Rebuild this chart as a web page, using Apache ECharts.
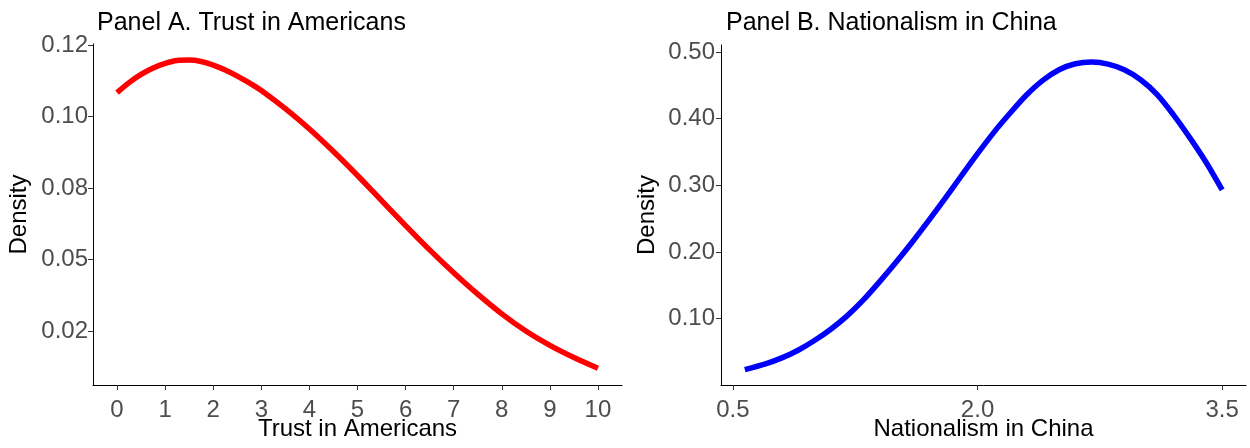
<!DOCTYPE html>
<html>
<head>
<meta charset="utf-8">
<script src="https://cdn.jsdelivr.net/npm/echarts@6/dist/echarts.min.js"></script>
<style>
html,body{margin:0;padding:0;background:#fff;}
#chart{width:1250px;height:448px;}
</style>
</head>
<body>
<div id="chart"></div>
<script>
// Panel A: Trust in Americans
const trustX = [0, 0.25, 0.5, 0.75, 1, 1.25, 1.5, 1.75, 2, 2.25, 2.5, 2.75, 3, 3.5, 4, 4.5, 5, 5.5, 6, 6.5, 7, 7.5, 8, 8.5, 9, 9.5, 10];
const trustDensity = [0.1067, 0.1095, 0.1118, 0.1136, 0.1149, 0.1157, 0.1158, 0.1154, 0.1144, 0.1130, 0.1113, 0.1094, 0.1073, 0.1022, 0.0965, 0.0902, 0.0835, 0.0765, 0.0695, 0.0627, 0.0563, 0.0503, 0.0448, 0.0400, 0.0360, 0.0326, 0.0296];
const trustXTicks = [0, 1, 2, 3, 4, 5, 6, 7, 8, 9, 10];
const trustYTicks = [0.04, 0.06, 0.08, 0.10, 0.12];
const trustYTickLabels = ['0.02', '0.05', '0.08', '0.10', '0.12'];

// Panel B: Nationalism in China
const natX = [0.573, 0.7, 0.8, 0.9, 1.0, 1.1, 1.2, 1.3, 1.4, 1.5, 1.6, 1.7, 1.8, 1.9, 2.0, 2.1, 2.2, 2.3, 2.4, 2.5, 2.6, 2.7, 2.8, 2.9, 3.0, 3.1, 3.2, 3.3, 3.4, 3.5];
const natDensity = [0.0235, 0.032, 0.041, 0.0525, 0.067, 0.084, 0.104, 0.128, 0.1555, 0.1845, 0.215, 0.247, 0.280, 0.314, 0.3475, 0.3795, 0.4085, 0.4355, 0.4575, 0.4735, 0.4825, 0.485, 0.482, 0.4735, 0.4585, 0.4365, 0.4062, 0.372, 0.335, 0.293];
const natXTicks = [0.5, 2.0, 3.5];
const natXTickLabels = ['0.5', '2.0', '3.5'];
const natYTicks = [0.1, 0.2, 0.3, 0.4, 0.5];
const natYTickLabels = ['0.10', '0.20', '0.30', '0.40', '0.50'];

const FONT = '"Liberation Sans", Arial, sans-serif';

function labelFor(ticks, labels) {
  return function (v) {
    for (let i = 0; i < ticks.length; i++) {
      if (Math.abs(ticks[i] - v) < 1e-6) return labels[i];
    }
    return '';
  };
}

const axisLineStyle = { show: true, onZero: false, lineStyle: { color: '#000', width: 1 } };
const tickStyle = { show: true, length: 5, lineStyle: { color: '#333', width: 1 } };
const tickLabelStyle = { color: '#4D4D4D', fontSize: 24, fontFamily: FONT };
const nameStyle = { color: '#000', fontSize: 24, fontFamily: FONT };

const chart = echarts.init(document.getElementById('chart'), null, { renderer: 'canvas' });
chart.setOption({
  animation: false,
  backgroundColor: '#fff',
  title: [
    { text: 'Panel A. Trust in Americans', left: 92, top: 6,
      textStyle: { color: '#000', fontSize: 25, fontWeight: 'normal', fontFamily: FONT } },
    { text: 'Panel B. Nationalism in China', left: 721, top: 6,
      textStyle: { color: '#000', fontSize: 25, fontWeight: 'normal', fontFamily: FONT } }
  ],
  grid: [
    { left: 93, right: 628, top: 44, bottom: 63, containLabel: false, outerBoundsMode: 'none' },
    { left: 721, right: 4, top: 45, bottom: 63, containLabel: false, outerBoundsMode: 'none' }
  ],
  xAxis: [
    {
      type: 'value', gridIndex: 0, min: -0.5, max: 10.5,
      name: 'Trust in Americans', nameLocation: 'middle', nameGap: 32, nameMoveOverlap: false, nameTextStyle: nameStyle,
      axisLine: axisLineStyle,
      axisTick: Object.assign({}, tickStyle, { customValues: trustXTicks }),
      axisLabel: Object.assign({}, tickLabelStyle, { customValues: trustXTicks, margin: 13,
        formatter: labelFor(trustXTicks, trustXTicks.map(String)) }),
      splitLine: { show: false }
    },
    {
      type: 'value', gridIndex: 1, min: 0.427, max: 3.646,
      name: 'Nationalism in China', nameLocation: 'middle', nameGap: 32, nameMoveOverlap: false, nameTextStyle: nameStyle,
      axisLine: axisLineStyle,
      axisTick: Object.assign({}, tickStyle, { customValues: natXTicks }),
      axisLabel: Object.assign({}, tickLabelStyle, { customValues: natXTicks, margin: 13,
        formatter: labelFor(natXTicks, natXTickLabels) }),
      splitLine: { show: false }
    }
  ],
  yAxis: [
    {
      type: 'value', gridIndex: 0, min: 0.0249, max: 0.1203,
      name: 'Density', nameLocation: 'middle', nameRotate: 90, nameGap: 62, nameMoveOverlap: false, nameTextStyle: nameStyle,
      axisLine: axisLineStyle,
      axisTick: Object.assign({}, tickStyle, { customValues: trustYTicks }),
      axisLabel: Object.assign({}, tickLabelStyle, { customValues: trustYTicks, margin: 5,
        formatter: labelFor(trustYTicks, trustYTickLabels) }),
      splitLine: { show: false }
    },
    {
      type: 'value', gridIndex: 1, min: 0.0003, max: 0.5106,
      name: 'Density', nameLocation: 'middle', nameRotate: 90, nameGap: 62, nameMoveOverlap: false, nameTextStyle: nameStyle,
      axisLine: axisLineStyle,
      axisTick: Object.assign({}, tickStyle, { customValues: natYTicks }),
      axisLabel: Object.assign({}, tickLabelStyle, { customValues: natYTicks, margin: 6,
        formatter: labelFor(natYTicks, natYTickLabels) }),
      splitLine: { show: false }
    }
  ],
  series: [
    {
      type: 'line', xAxisIndex: 0, yAxisIndex: 0, smooth: 0.3, showSymbol: false,
      lineStyle: { color: '#FF0000', width: 5.5 },
      data: trustX.map((x, i) => [x, trustDensity[i]])
    },
    {
      type: 'line', xAxisIndex: 1, yAxisIndex: 1, smooth: 0.3, showSymbol: false,
      lineStyle: { color: '#0000FF', width: 5.5 },
      data: natX.map((x, i) => [x, natDensity[i]])
    }
  ]
});
</script>
</body>
</html>
